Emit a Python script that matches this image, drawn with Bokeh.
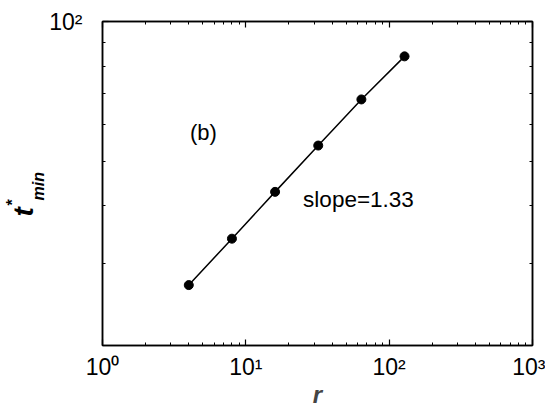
from bokeh.plotting import figure
from bokeh.models import (Range1d, LogAxis, FixedTicker, CustomJSTickFormatter, Label, Title)
from bokeh.embed import file_html
from bokeh.resources import INLINE

# data
r_vals = [4, 8, 16, 32, 64, 128]
t_vals = [27.0, 34.0, 42.9, 54.0, 67.9, 84.1]
x_major = [1, 10, 100, 1000]
x_minor = [m * 10 ** k for k in range(0, 3) for m in range(2, 10)]
y_major = [100]
y_minor = [20, 30, 40, 50, 60, 70, 80, 90]
panel_text = "(b)"
slope_text = "slope=1.33"

FONT = "Liberation Sans"
W, H = 545, 410

p = figure(width=W, height=H, x_axis_type="log", y_axis_type="log",
           x_range=Range1d(1, 1000), y_range=Range1d(20, 100),
           output_backend="svg", toolbar_location=None,
           min_border_left=102, min_border_right=13, min_border_top=21, min_border_bottom=62)
p.background_fill_color = "white"
p.border_fill_color = "white"
p.grid.visible = False
p.outline_line_color = "black"
p.outline_line_width = 1.5

fmt = CustomJSTickFormatter(code="""
const sup = {"0":"\u2070","1":"\u00b9","2":"\u00b2","3":"\u00b3","-":"\u207b"};
const e = Math.round(Math.log10(tick));
return "10" + String(e).split("").map(c => sup[c]).join("");
""")
blank = CustomJSTickFormatter(code="return ' ';")

def style(ax, labels=True):
    ax.axis_line_color = "black"
    ax.axis_line_width = 1.5
    ax.major_tick_line_color = "black"
    ax.minor_tick_line_color = "black"
    ax.major_tick_line_width = 1.2
    ax.minor_tick_line_width = 1.0
    ax.major_tick_in = 6
    ax.major_tick_out = 0
    ax.minor_tick_in = 3
    ax.minor_tick_out = 0
    if labels:
        ax.formatter = fmt
        ax.major_label_text_font = FONT
        ax.major_label_text_font_size = "23px"
        ax.major_label_text_color = "black"
    else:
        ax.formatter = blank
        ax.major_label_text_font_size = "2px"
        ax.major_label_standoff = 0

xa = p.xaxis[0]
xa.ticker = FixedTicker(ticks=x_major, minor_ticks=x_minor)
style(xa)
xa.major_label_standoff = 8
xa.axis_label = "r"
xa.axis_label_text_font = FONT
xa.axis_label_text_font_style = "bold italic"
xa.axis_label_text_font_size = "24px"
xa.axis_label_standoff = -2

ya = p.yaxis[0]
ya.ticker = FixedTicker(ticks=y_major, minor_ticks=y_minor)
style(ya)
ya.major_label_standoff = 20

top = LogAxis(ticker=FixedTicker(ticks=x_major, minor_ticks=x_minor))
style(top, labels=False)
p.add_layout(top, "above")
right = LogAxis(ticker=FixedTicker(ticks=y_major, minor_ticks=y_minor))
style(right, labels=False)
p.add_layout(right, "right")

p.line(r_vals, t_vals, line_color="black", line_width=1.5)
p.scatter(r_vals, t_vals, size=9, fill_color="black", line_color="black")

p.add_layout(Label(x=4.08, y=57.5, text=panel_text, text_font=FONT, text_font_size="22px",
                   text_baseline="middle", text_align="left", text_color="black"))
p.add_layout(Label(x=25.1, y=41.3, text=slope_text, text_font=FONT, text_font_size="22.5px",
                   text_baseline="middle", text_align="left", text_color="black"))

# y-axis label t*_min built from stacked left-side titles (offset from frame bottom)
p.add_layout(Title(text="min", text_font=FONT, text_font_style="bold italic",
                   text_font_size="16px", align="left", offset=145, standoff=0,
                   text_color="black"), "left")
p.add_layout(Title(text="t", text_font=FONT, text_font_style="bold italic",
                   text_font_size="28px", align="left", offset=129, standoff=-23,
                   text_color="black"), "left")
p.add_layout(Title(text="*", text_font=FONT, text_font_style="bold",
                   text_font_size="16px", align="left", offset=140, standoff=-7,
                   text_color="black"), "left")

open("out.html", "w").write(file_html(p, INLINE))
